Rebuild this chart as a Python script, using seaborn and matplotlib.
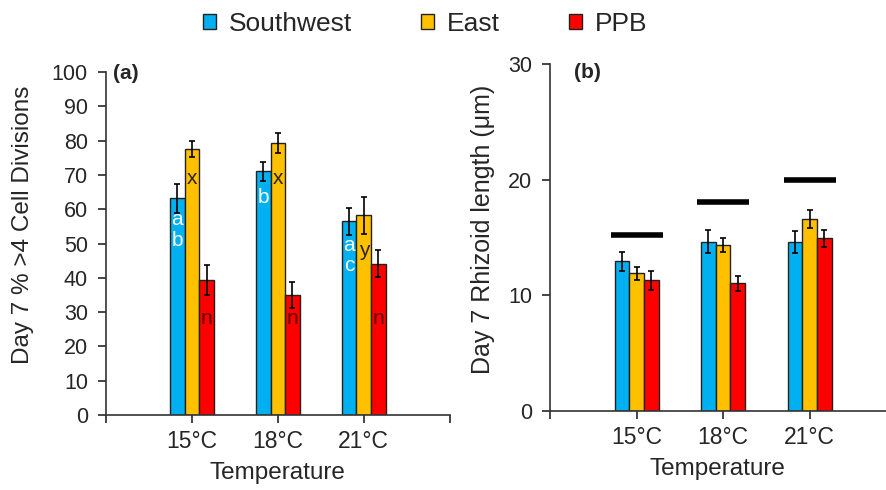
import matplotlib
matplotlib.use("Agg")
import matplotlib.pyplot as plt
import matplotlib.patches as mpatches
import seaborn as sns
import numpy as np
import pandas as pd

sns.set_style("white")
plt.rcParams['font.family'] = ['Liberation Sans', 'DejaVu Sans']

temps = ["15°C", "18°C", "21°C"]
sites = ["Southwest", "East", "PPB"]
colors = ["#00B0F0", "#FFC000", "#FF0000"]

# (a) Day 7 % >4 cell divisions
div_sw = [63.2, 71.0, 56.5]
div_east = [77.5, 79.3, 58.3]
div_ppb = [39.3, 35.0, 44.1]
div_err_sw = [4.3, 2.9, 4.0]
div_err_east = [2.3, 2.9, 5.4]
div_err_ppb = [4.3, 3.8, 3.9]

# significance letters: (site, temp, text, y)
letters_a = [
    ("Southwest", "15°C", "a", 57), ("Southwest", "15°C", "b", 51),
    ("Southwest", "18°C", "b", 63.5),
    ("Southwest", "21°C", "a", 49.5), ("Southwest", "21°C", "c", 43.5),
    ("East", "15°C", "x", 69), ("East", "18°C", "x", 69), ("East", "21°C", "y", 48),
    ("PPB", "15°C", "n", 28), ("PPB", "18°C", "n", 28), ("PPB", "21°C", "n", 28),
]
letter_colors = {"Southwest": "white", "East": "#2b2200", "PPB": "#5a0000"}

# (b) Day 7 rhizoid length (um)
rh_sw = [12.95, 14.65, 14.6]
rh_east = [11.9, 14.4, 16.6]
rh_ppb = [11.3, 11.05, 14.95]
rh_err_sw = [0.8, 1.0, 0.95]
rh_err_east = [0.55, 0.6, 0.75]
rh_err_ppb = [0.8, 0.65, 0.75]
rh_bar_level = [15.2, 18.1, 20.0]


def make_df(sw, east, ppb, esw, eeast, eppb):
    rows = []
    for site, vals, errs in zip(sites, [sw, east, ppb], [esw, eeast, eppb]):
        for t, v, e in zip(temps, vals, errs):
            rows.append({"Temperature": t, "Site": site, "value": v, "err": e})
    return pd.DataFrame(rows)


df_a = make_df(div_sw, div_east, div_ppb, div_err_sw, div_err_east, div_err_ppb)
df_b = make_df(rh_sw, rh_east, rh_ppb, rh_err_sw, rh_err_east, rh_err_ppb)

fig = plt.figure(figsize=(8.86, 4.9), dpi=100)
ax1 = fig.add_axes([0.1196, 0.153, 0.388, 0.700])
ax2 = fig.add_axes([0.6208, 0.161, 0.379, 0.708])


def draw(ax, df):
    sns.barplot(data=df, x="Temperature", y="value", hue="Site", order=temps,
                hue_order=sites, palette=colors, width=0.51, errorbar=None,
                edgecolor="#222222", linewidth=1.0, saturation=1, ax=ax,
                legend=False)
    centers = {}
    for site, cont in zip(sites, ax.containers):
        sub = df[df.Site == site].set_index("Temperature").loc[temps]
        xs = [p.get_x() + p.get_width() / 2 for p in cont.patches]
        ax.errorbar(xs, sub["value"], yerr=sub["err"], fmt="none",
                    ecolor="black", elinewidth=1.2, capsize=2.5, capthick=1.2)
        for t, x in zip(temps, xs):
            centers[(site, t)] = x
    return centers


c1 = draw(ax1, df_a)
c2 = draw(ax2, df_b)

for site, t, txt, y in letters_a:
    ax1.text(c1[(site, t)], y, txt, ha="center", va="center", fontsize=15,
             color=letter_colors[site])

for i, lvl in enumerate(rh_bar_level):
    ax2.plot([i - 0.3, i + 0.3], [lvl, lvl], color="black", lw=4,
             solid_capstyle="butt")

for ax in (ax1, ax2):
    sns.despine(ax=ax)
    ax.set_xticks([-1, 0, 1, 2, 3])
    ax.set_xticklabels(["", *temps, ""])
    ax.tick_params(axis="x", direction="out", length=6, width=1.2,
                   labelsize=16.5, pad=5, bottom=True)
    ax.tick_params(axis="y", direction="out", length=6, width=1.2,
                   labelsize=15.5, pad=7, left=True)
    ax.set_xlabel("Temperature", fontsize=17.5, labelpad=6)
    for s in ("left", "bottom"):
        ax.spines[s].set_linewidth(1.2)
        ax.spines[s].set_color("#333333")
    ax.grid(False)

ax1.set_xlim(-1, 3)
ax1.set_ylim(0, 100)
ax1.set_yticks(range(0, 101, 10))
ax1.set_ylabel("Day 7 % >4 Cell Divisions", fontsize=17.5)
ax1.yaxis.set_label_coords(-0.208, 0.554)
ax1.text(0.02, 0.995, "(a)", transform=ax1.transAxes, fontsize=15,
         fontweight="bold", va="center", ha="left")

ax2.set_xlim(-1, 2.88)
ax2.set_ylim(0, 30)
ax2.set_yticks([0, 10, 20, 30])
ax2.set_ylabel("Day 7 Rhizoid length (μm)", fontsize=18)
ax2.yaxis.set_label_coords(-0.165, 0.524)
ax2.text(0.07, 0.975, "(b)", transform=ax2.transAxes, fontsize=15,
         fontweight="bold", va="center", ha="left")

handles = [mpatches.Patch(facecolor=c, edgecolor="#222222", label=s)
           for s, c in zip(sites, colors)]
fig.legend(handles=handles, loc="center", bbox_to_anchor=(0.48, 0.951),
           ncol=3, frameon=False, fontsize=19, handlelength=0.5,
           handleheight=0.5, handletextpad=0.5, columnspacing=2.6)

fig.savefig("out.png", dpi=100)
